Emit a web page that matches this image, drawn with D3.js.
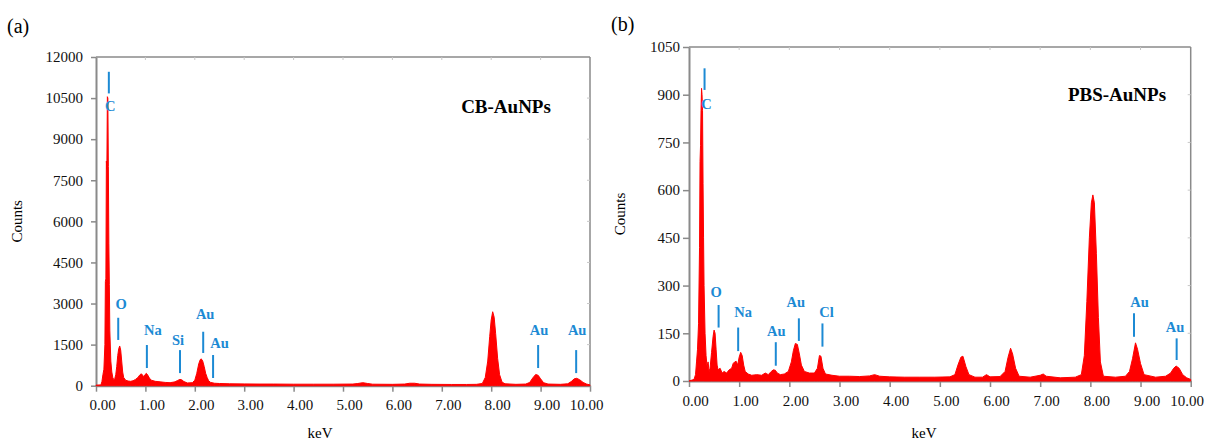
<!DOCTYPE html>
<html>
<head>
<meta charset="utf-8">
<script src="https://cdn.jsdelivr.net/npm/d3@7"></script>
<style>
  body { margin: 0; background: #fff; }
  svg text { font-family: "Liberation Serif", "Times New Roman", serif; }
</style>
</head>
<body>
<div id="chart"></div>
<script>
// keV tick labels shared by both panels
const keVTicks = [0, 1, 2, 3, 4, 5, 6, 7, 8, 9, 10];
const countTicksA = [0, 1500, 3000, 4500, 6000, 7500, 9000, 10500, 12000];
const countTicksB = [0, 150, 300, 450, 600, 750, 900, 1050];

// (a) CB-AuNPs spectrum
const energyA = [0.00, 0.10, 0.12, 0.14, 0.16, 0.18, 0.19, 0.20, 0.21, 0.22, 0.23, 0.24, 0.25, 0.26, 0.27, 0.28, 0.30, 0.32, 0.34, 0.36, 0.38,
  0.40, 0.42, 0.44, 0.46, 0.48, 0.50, 0.52, 0.54, 0.56, 0.60, 0.65, 0.70, 0.75, 0.80, 0.85, 0.88, 0.91, 0.93, 0.96, 0.99,
  1.02, 1.05, 1.08, 1.12, 1.20, 1.30, 1.40, 1.50, 1.60, 1.65, 1.70, 1.74, 1.78, 1.85, 1.95, 2.00, 2.04, 2.08, 2.11, 2.13,
  2.16, 2.19, 2.22, 2.25, 2.28, 2.32, 2.40, 2.50, 2.70, 3.00, 3.30, 3.60, 4.00, 4.40, 4.80, 5.20, 5.30, 5.40, 5.50, 5.60,
  6.00, 6.25, 6.35, 6.45, 6.55, 6.80, 7.20, 7.50, 7.70, 7.82, 7.88, 7.93, 7.97, 8.00, 8.03, 8.06, 8.09, 8.13, 8.17, 8.22,
  8.28, 8.50, 8.70, 8.78, 8.84, 8.90, 8.95, 9.00, 9.06, 9.15, 9.40, 9.55, 9.62, 9.68, 9.73, 9.79, 9.86, 9.93, 10.00];
const countsA = [20, 30, 150, 400, 600, 1500, 3800, 3900, 8200, 7900, 10550, 10500, 8000, 5200, 3700, 2000, 900, 500, 300, 220, 260,
  400, 700, 1100, 1350, 1450, 1300, 900, 500, 300, 200, 170, 160, 180, 230, 300, 380, 430, 420, 330, 400,
  450, 380, 280, 200, 160, 140, 120, 110, 140, 190, 230, 210, 150, 100, 110, 200, 450, 800, 950, 980,
  900, 700, 450, 300, 180, 120, 90, 80, 70, 65, 60, 60, 55, 55, 55, 60, 80, 110, 80, 55,
  50, 60, 90, 90, 60, 50, 45, 45, 50, 80, 300, 900, 1800, 2400, 2700, 2500, 1900, 1000, 400, 130,
  70, 50, 60, 120, 280, 410, 380, 250, 110, 60, 50, 70, 150, 250, 270, 220, 120, 60, 30];

// (b) PBS-AuNPs spectrum
const energyB = [0.00, 0.10, 0.13, 0.15, 0.17, 0.19, 0.21, 0.22, 0.23, 0.24, 0.25, 0.26, 0.27, 0.28, 0.29, 0.30, 0.32, 0.34, 0.36, 0.38,
  0.40, 0.42, 0.45, 0.48, 0.50, 0.52, 0.54, 0.56, 0.58, 0.62, 0.66, 0.70, 0.75, 0.80, 0.85, 0.88, 0.91, 0.94, 0.97, 1.00,
  1.03, 1.06, 1.09, 1.12, 1.18, 1.25, 1.35, 1.45, 1.52, 1.58, 1.64, 1.68, 1.72, 1.76, 1.82, 1.90, 1.98, 2.04, 2.08, 2.12,
  2.16, 2.20, 2.24, 2.30, 2.40, 2.50, 2.56, 2.60, 2.63, 2.67, 2.72, 2.85, 3.00, 3.20, 3.40, 3.60, 3.70, 3.80, 4.00, 4.30,
  4.60, 4.90, 5.20, 5.30, 5.36, 5.42, 5.46, 5.52, 5.58, 5.70, 5.85, 5.93, 6.00, 6.20, 6.30, 6.36, 6.41, 6.45, 6.51, 6.58,
  6.80, 7.00, 7.06, 7.12, 7.40, 7.70, 7.82, 7.88, 7.93, 7.98, 8.02, 8.05, 8.08, 8.12, 8.16, 8.20, 8.26, 8.50, 8.70, 8.78,
  8.84, 8.90, 8.94, 9.00, 9.07, 9.30, 9.50, 9.60, 9.66, 9.71, 9.77, 9.84, 9.92, 10.00];
const countsB = [0, 5, 20, 60, 100, 180, 420, 690, 740, 850, 920, 900, 850, 620, 450, 300, 150, 80, 45, 60,
  30, 40, 90, 140, 160, 150, 100, 50, 35, 40, 25, 30, 25, 35, 40, 55, 60, 62, 50, 75,
  90, 80, 50, 30, 22, 18, 20, 18, 25, 20, 30, 35, 34, 25, 20, 22, 30, 60, 95, 118,
  115, 85, 50, 30, 25, 25, 40, 80, 78, 40, 22, 18, 15, 15, 14, 16, 20, 15, 13, 12,
  12, 12, 13, 20, 50, 75, 78, 45, 20, 12, 12, 20, 13, 14, 30, 75, 103, 85, 40, 15,
  12, 18, 22, 15, 10, 12, 20, 80, 250, 450, 560, 585, 560, 400, 200, 60, 15, 12, 15, 30,
  70, 120, 100, 55, 20, 12, 15, 25, 40, 47, 40, 20, 10, 5];

// element markers: name, marker keV, marker top/bottom counts, label keV, label baseline counts
const peaksA = [
  ['C', 0.26, 11460, 10670, 0.29, 10025],
  ['O', 0.45, 2480, 1670, 0.51, 2800],
  ['Na', 1.03, 1485, 645, 1.15, 1850],
  ['Si', 1.70, 1300, 460, 1.66, 1485],
  ['Au', 2.17, 1970, 1195, 2.21, 2435],
  ['Au', 2.37, 1120, 280, 2.50, 1375],
  ['Au', 8.95, 1485, 645, 8.97, 1850],
  ['Au', 9.72, 1300, 460, 9.74, 1850]
];
const peaksB = [
  ['C', 0.31, 983, 915, 0.35, 855],
  ['O', 0.59, 239, 168, 0.54, 265],
  ['Na', 0.98, 168, 94, 1.08, 202],
  ['Au', 1.73, 122, 48, 1.74, 142],
  ['Au', 2.19, 197, 126, 2.13, 234],
  ['Cl', 2.66, 181, 108, 2.74, 202],
  ['Au', 8.87, 213, 139, 8.98, 234],
  ['Au', 9.72, 134, 66, 9.69, 155]
];

const W = 1207, H = 441;
const axisGrey = '#8a8a8a';
const markBlue = '#1c8ad4';
const serif = '"Liberation Serif", "Times New Roman", serif';

const svg = d3.select('#chart').append('svg')
  .attr('width', W)
  .attr('height', H);

function drawPanel(opt) {
  const x = d3.scaleLinear().domain([0, 10]).range([opt.left, opt.right]);
  const y = d3.scaleLinear().domain([0, opt.yMax]).range([opt.bottom, opt.top]);
  const g = svg.append('g');

  // frame: top and right lines with small inward ticks
  g.append('line')
    .attr('x1', opt.left).attr('x2', opt.right)
    .attr('y1', opt.top).attr('y2', opt.top)
    .attr('stroke', axisGrey).attr('stroke-width', 1.5);
  g.append('line')
    .attr('x1', opt.right).attr('x2', opt.right)
    .attr('y1', opt.top).attr('y2', opt.bottom)
    .attr('stroke', axisGrey).attr('stroke-width', 1.5);
  g.selectAll('.top-tick')
    .data(keVTicks.slice(1, -1))
    .enter().append('line')
    .attr('x1', d => x(d)).attr('x2', d => x(d))
    .attr('y1', opt.top).attr('y2', opt.top + 3)
    .attr('stroke', '#c8c8c8');
  g.selectAll('.right-tick')
    .data(opt.yTicks.slice(1, -1))
    .enter().append('line')
    .attr('x1', opt.right - 3).attr('x2', opt.right)
    .attr('y1', d => y(d)).attr('y2', d => y(d))
    .attr('stroke', '#c8c8c8');

  // y axis
  const yAxis = g.append('g')
    .attr('transform', `translate(${opt.left},0)`)
    .call(d3.axisLeft(y).tickValues(opt.yTicks).tickFormat(d3.format('d'))
      .tickSize(opt.yTickSize).tickPadding(opt.yPad).tickSizeOuter(0))
    .attr('font-family', serif)
    .attr('font-size', 15);
  yAxis.select('.domain').attr('stroke', axisGrey).attr('stroke-width', 2);
  yAxis.selectAll('.tick line').attr('stroke', axisGrey).attr('stroke-width', 1.5);
  yAxis.selectAll('.tick text').attr('fill', '#111');

  // x axis
  const xAxis = g.append('g')
    .attr('transform', `translate(0,${opt.bottom})`)
    .call(d3.axisBottom(x).tickValues(keVTicks).tickFormat(d3.format('.2f'))
      .tickSize(6).tickPadding(8).tickSizeOuter(0))
    .attr('font-family', serif)
    .attr('font-size', 15);
  xAxis.select('.domain').attr('stroke', axisGrey).attr('stroke-width', 2);
  xAxis.selectAll('.tick line').attr('stroke', axisGrey).attr('stroke-width', 1.5);
  xAxis.selectAll('.tick text')
    .attr('fill', '#111')
    .attr('dx', d => d === 10 ? -4 : 6);

  // spectrum
  const pts = opt.energy.map((e, i) => ({ e: e, c: opt.counts[i] }));
  const area = d3.area()
    .x(d => x(d.e))
    .y0(y(0))
    .y1(d => y(d.c));
  g.append('path')
    .datum(pts)
    .attr('d', area)
    .attr('fill', '#ff0000')
    .attr('stroke', '#ff0000')
    .attr('stroke-width', 1)
    .attr('stroke-linejoin', 'round');

  // element markers
  g.selectAll('.mark')
    .data(opt.peaks)
    .enter().append('line')
    .attr('x1', d => x(d[1])).attr('x2', d => x(d[1]))
    .attr('y1', d => y(d[2])).attr('y2', d => y(d[3]))
    .attr('stroke', markBlue)
    .attr('stroke-width', 2);
  g.selectAll('.mark-label')
    .data(opt.peaks)
    .enter().append('text')
    .attr('x', d => x(d[4]))
    .attr('y', d => y(d[5]))
    .attr('text-anchor', 'middle')
    .attr('fill', markBlue)
    .style('font-size', '14.5px')
    .style('font-weight', 'bold')
    .text(d => d[0]);

  // sample name
  g.append('text')
    .attr('x', opt.nameX)
    .attr('y', opt.nameY)
    .attr('text-anchor', 'middle')
    .style('font-size', '19px')
    .style('font-weight', 'bold')
    .text(opt.name);

  // axis titles
  g.append('text')
    .attr('transform', `translate(${opt.countsX},${(opt.top + opt.bottom) / 2}) rotate(-90)`)
    .attr('text-anchor', 'middle')
    .style('font-size', '15px')
    .text('Counts');
  g.append('text')
    .attr('x', opt.keVX)
    .attr('y', 438)
    .attr('text-anchor', 'middle')
    .style('font-size', '15px')
    .text('keV');

  // panel letter
  g.append('text')
    .attr('x', opt.letterX)
    .attr('y', opt.letterY)
    .style('font-size', '20px')
    .text(opt.letter);
}

drawPanel({
  left: 96, right: 590, top: 57, bottom: 385.7, yMax: 12000,
  yTicks: countTicksA, yTickSize: 5, yPad: 8,
  energy: energyA, counts: countsA, peaks: peaksA,
  name: 'CB-AuNPs', nameX: 506, nameY: 113,
  countsX: 22, keVX: 320, letter: '(a)', letterX: 7, letterY: 33
});

drawPanel({
  left: 689, right: 1190.7, top: 47, bottom: 381, yMax: 1050,
  yTicks: countTicksB, yTickSize: 6, yPad: 3,
  energy: energyB, counts: countsB, peaks: peaksB,
  name: 'PBS-AuNPs', nameX: 1117, nameY: 101,
  countsX: 625, keVX: 924, letter: '(b)', letterX: 611, letterY: 31
});
</script>
</body>
</html>
